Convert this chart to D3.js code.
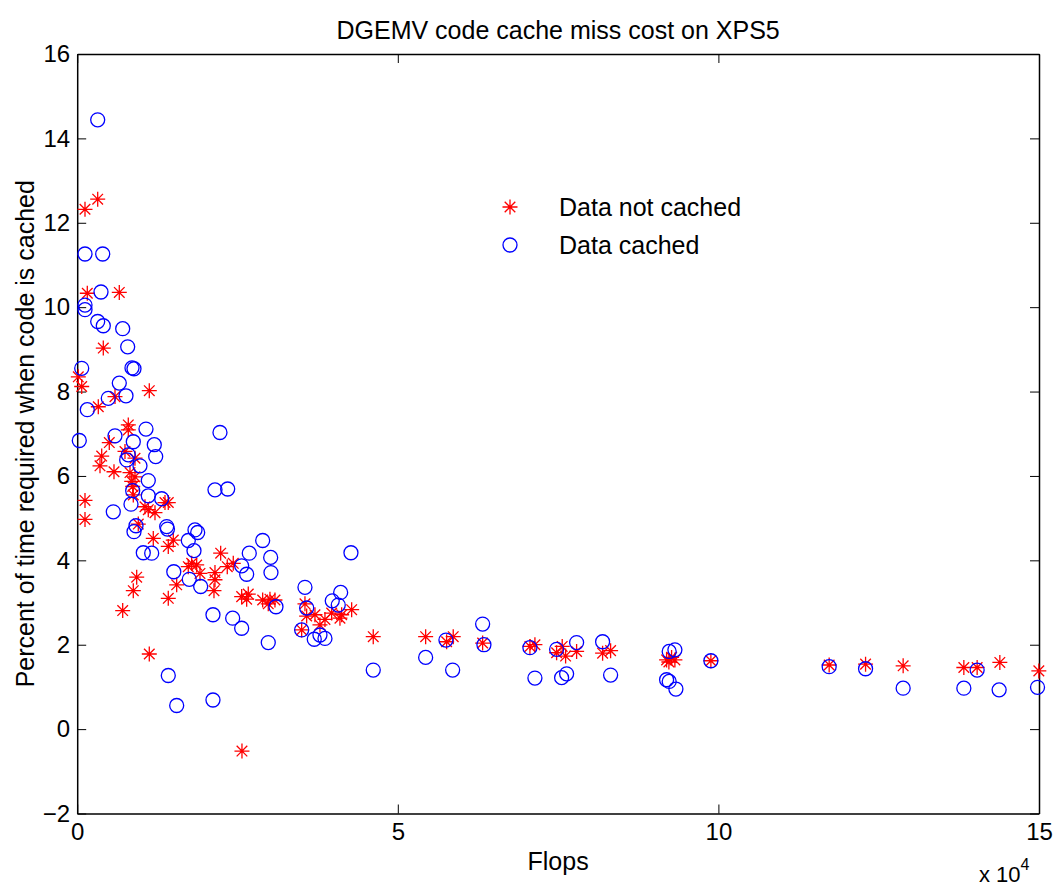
<!DOCTYPE html>
<html>
<head>
<meta charset="utf-8">
<script src="https://cdn.jsdelivr.net/npm/d3@7"></script>
<style>
  body { margin: 0; background: #fff; }
  text { font-family: "Liberation Sans", Arial, sans-serif; fill: #000; }
</style>
</head>
<body>
<div id="chart"></div>
<script>
// Data cached (blue circles): flops, percent
var cachedFlops = [3197,1216,3976,3711,1216,1216,3197,4070,7095,7874,702,8545,8857,6565,4849,7609,1575,327,5894,10728,
  8748,12022,12240,7968,7719,9792,11087,8654,11087,13176,8389,5629,13956,14080,9169,8857,17324,18369,18790,18213,
  10307,11617,15063,17480,19257,14205,15515,21175,21175,22267,21487,23467,28925,26836,30172,30219,25650,26430,42694,35521,
  41088,39778,40713,35786,24247,25650,29798,30999,35006,36971,37860,38640,46171,54342,57507,58552,63230,63432,70605,71385,
  74768,75548,76328,77887,81941,83189,92326,93215,91921,92326,93371,98828,117275,122951,128814,138279,140353,143783,149771];
var cachedPct = [14.44,11.26,11.26,10.36,10.05,9.94,9.66,9.56,9.49,9.06,8.55,8.56,8.54,8.20,7.84,7.90,7.57,6.84,6.95,7.11,
  6.81,6.74,6.46,6.50,6.38,6.24,5.89,5.65,5.53,5.46,5.33,5.15,4.80,4.74,4.82,4.68,4.47,4.72,4.66,4.23,
  4.18,4.17,3.73,3.55,3.38,1.27,0.56,2.71,0.69,7.03,5.67,5.69,4.47,4.17,4.07,3.71,3.87,3.67,4.18,3.36,
  3.24,3.04,2.94,2.87,2.63,2.39,2.05,2.90,2.35,2.13,2.23,2.15,1.40,1.70,2.11,1.40,2.49,2.00,1.93,1.21,
  1.89,1.22,1.31,2.05,2.07,1.28,1.84,1.88,1.17,1.13,0.95,1.62,1.48,1.43,0.97,0.97,1.40,0.93,0.99];

// Data not cached (red stars): flops, percent
var notCachedFlops = [1216,3197,1575,6565,4070,172,702,5894,11243,3290,7968,7968,5005,3820,7453,9013,3555,5738,8233,9013,
  8498,8654,8748,1216,1216,10572,11087,12131,13691,14205,9527,11866,14985,14205,9278,17854,18634,17324,19148,8748,
  7095,14205,15515,11243,22376,24341,23405,21487,21487,21331,25650,26680,26430,28925,30063,30843,29798,35521,35786,37080,
  38640,37860,39684,40978,41244,42803,35006,46171,25697,54342,57616,58645,63230,70605,71385,74768,75642,76172,77887,81941,
  83189,91921,92700,93215,92279,98828,117275,122951,128814,138279,140353,143892,149974];
var notCachedPct = [12.32,12.56,10.33,10.35,9.03,8.35,8.12,7.88,8.02,7.64,7.21,7.09,6.79,6.47,6.58,6.42,6.24,6.10,6.08,5.98,
  5.87,5.75,5.55,5.42,4.97,5.27,5.20,5.13,5.37,5.37,4.86,4.52,4.48,4.33,3.60,3.93,3.89,3.85,3.69,3.28,
  2.81,3.10,3.42,1.78,4.17,3.93,3.85,3.71,3.54,3.28,3.14,3.20,3.08,3.06,3.08,3.06,2.97,2.97,2.68,2.71,
  2.60,2.47,2.75,2.63,2.71,2.83,2.35,2.19,-0.52,2.19,2.07,2.19,2.04,1.96,2.00,1.81,1.96,1.73,1.84,1.80,
  1.86,1.64,1.70,1.64,1.59,1.62,1.52,1.54,1.50,1.46,1.46,1.58,1.38];

var xTicks = [0, 5, 10, 15];        // in units of 10^4
var yTicks = [-2, 0, 2, 4, 6, 8, 10, 12, 14, 16];
var seriesNames = ["Data not cached", "Data cached"];

var width = 1055,
    height = 888,
    margin = {top: 54, right: 16, bottom: 74.5, left: 77.2};

var svg = d3.select("#chart")
  .append("svg")
    .attr("width", width)
    .attr("height", height);

var x = d3.scaleLinear().domain([0, 150000]).range([margin.left, width - margin.right]);
var y = d3.scaleLinear().domain([-2, 16]).range([height - margin.bottom, margin.top]);

var tickLen = 9;
var fontSize = "24px";

// axes (MATLAB style: ticks inside, box on all sides)
var xAxis = d3.axisBottom(x).tickValues(xTicks.map(function(d) { return d * 10000; }))
  .tickFormat(function(d) { return d / 10000; }).tickSizeInner(-tickLen).tickSizeOuter(0).tickPadding(9);
var yAxis = d3.axisLeft(y).tickValues(yTicks).tickFormat(function(d) { return d < 0 ? "\u2212" + (-d) : d; })
  .tickSizeInner(-tickLen).tickSizeOuter(0).tickPadding(7);

var gx = svg.append("g").attr("transform", "translate(0," + y(-2) + ")").call(xAxis);
var gy = svg.append("g").attr("transform", "translate(" + x(0) + ",0)").call(yAxis);
var gxTop = svg.append("g").attr("transform", "translate(0," + y(16) + ")")
  .call(d3.axisTop(x).tickValues(xTicks.map(function(d) { return d * 10000; })).tickFormat("").tickSizeInner(-tickLen).tickSizeOuter(0));
var gyRight = svg.append("g").attr("transform", "translate(" + x(150000) + ",0)")
  .call(d3.axisRight(y).tickValues(yTicks).tickFormat("").tickSizeInner(-tickLen).tickSizeOuter(0));

[gx, gy, gxTop, gyRight].forEach(function(g) {
  g.select(".domain").attr("stroke", "#000").attr("stroke-width", 1.5);
  g.selectAll(".tick line").attr("stroke", "#000").attr("stroke-width", 1);
  g.selectAll(".tick text").style("font-family", "Liberation Sans, Arial, sans-serif").style("font-size", fontSize).attr("fill", "#000");
});
gx.selectAll(".tick text").attr("dy", "0.71em");

// star marker (MATLAB '*'): plus + cross
var starR = 7.5, starD = 5.3;
function starPath(cx, cy) {
  return "M" + (cx - starR) + "," + cy + "H" + (cx + starR) +
    "M" + cx + "," + (cy - starR) + "V" + (cy + starR) +
    "M" + (cx - starD) + "," + (cy - starD) + "L" + (cx + starD) + "," + (cy + starD) +
    "M" + (cx - starD) + "," + (cy + starD) + "L" + (cx + starD) + "," + (cy - starD);
}

var notCached = notCachedFlops.map(function(f, i) { return {f: f, p: notCachedPct[i]}; });
var cached = cachedFlops.map(function(f, i) { return {f: f, p: cachedPct[i]}; });

svg.append("g").selectAll("path")
  .data(notCached)
  .enter().append("path")
    .attr("d", function(d) { return starPath(x(d.f), y(d.p)); })
    .attr("stroke", "#ff0000")
    .attr("stroke-width", 1.3)
    .attr("fill", "none");

svg.append("g").selectAll("circle")
  .data(cached)
  .enter().append("circle")
    .attr("cx", function(d) { return x(d.f); })
    .attr("cy", function(d) { return y(d.p); })
    .attr("r", 7)
    .attr("stroke", "#0000ff")
    .attr("stroke-width", 1.3)
    .attr("fill", "none");

// legend (no box)
var legend = svg.append("g");
legend.append("path").attr("d", starPath(510, 207)).attr("stroke", "#ff0000").attr("stroke-width", 1.3).attr("fill", "none");
legend.append("circle").attr("cx", 510).attr("cy", 245).attr("r", 7).attr("stroke", "#0000ff").attr("stroke-width", 1.3).attr("fill", "none");
legend.selectAll("text.lab").data(seriesNames).enter().append("text")
  .attr("x", 559).attr("y", function(d, i) { return 207 + i * 38; })
  .attr("dy", "0.35em").style("font-size", "25px").text(function(d) { return d; });

// title and labels
var cx = (x(0) + x(150000)) / 2;
svg.append("text").attr("x", cx).attr("y", 39).attr("text-anchor", "middle").style("font-size", "25px")
  .text("DGEMV code cache miss cost on XPS5");
svg.append("text").attr("x", cx).attr("y", 870).attr("text-anchor", "middle").style("font-size", "25px").text("Flops");
svg.append("text").attr("transform", "translate(34," + (y(-2) + y(16)) / 2 + ") rotate(-90)").attr("text-anchor", "middle")
  .style("font-size", "25px").text("Percent of time required when code is cached");

var expo = svg.append("text").attr("x", 979).attr("y", 882).style("font-size", "22px");
expo.append("tspan").text("x 10");
expo.append("tspan").attr("dy", -12).style("font-size", "16px").text("4");
</script>
</body>
</html>
